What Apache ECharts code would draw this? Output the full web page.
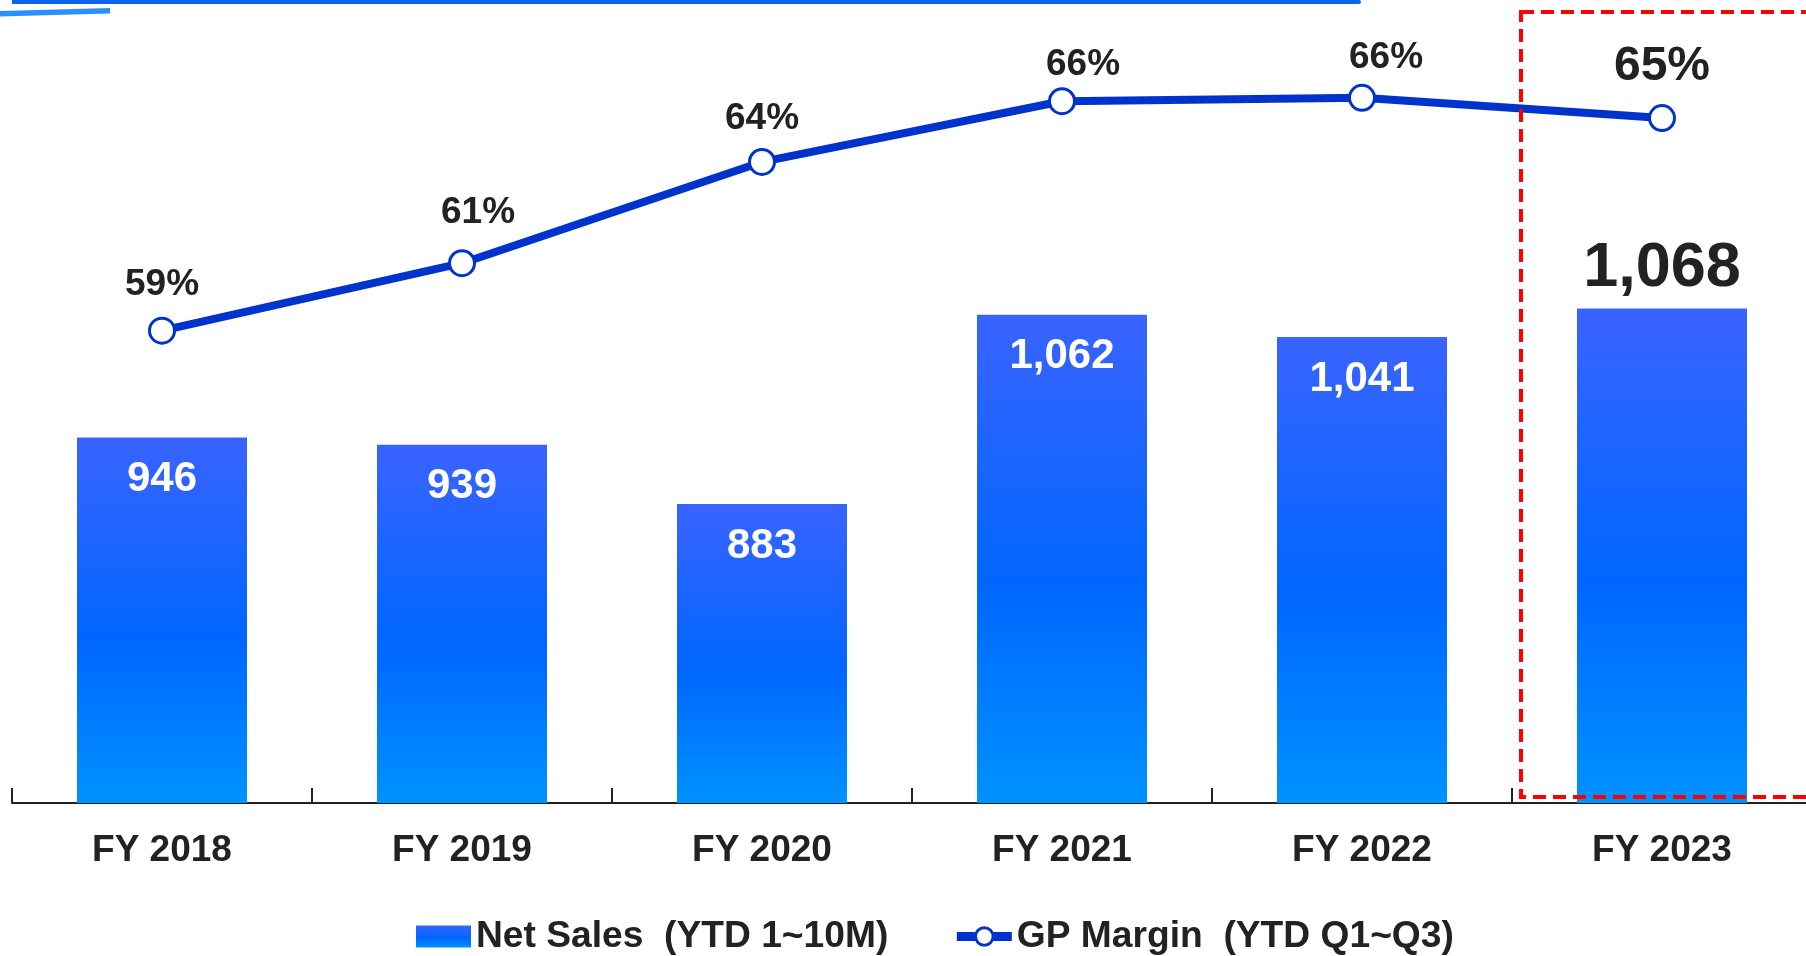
<!DOCTYPE html>
<html>
<head>
<meta charset="utf-8">
<script src="https://cdn.jsdelivr.net/npm/echarts@6/dist/echarts.min.js"></script>
<style>
    html, body { margin: 0; padding: 0; background: #fff; }
    #chart { width: 1806px; height: 956px; }
</style>
</head>
<body>
<div id="chart"></div>
<script>
// 数据
const years = ['FY 2018', 'FY 2019', 'FY 2020', 'FY 2021', 'FY 2022', 'FY 2023'];
const netSales = [946, 939, 883, 1062, 1041, 1068];
const gpMargin = [59.0, 61.0, 64.0, 65.8, 65.9, 65.3];
const salesName = 'Net Sales  (YTD 1~10M)';
const marginName = 'GP Margin  (YTD Q1~Q3)';
const highlightIndex = 5;

// 百分比标签的手动微调 (原图里标签不是严格居中)
const marginLabelShift = [[0, 2], [16, -3], [0, 4], [21, 11], [24, 7], [0, 2]];

const font = '"Liberation Sans", Arial, sans-serif';
const textColor = '#222';
const lineColor = '#0033cc';

const fmtThousands = (v) => String(v).replace(/\B(?=(\d{3})+(?!\d))/g, ',');

const barColor = new echarts.graphic.LinearGradient(0, 0, 0, 1, [
    { offset: 0, color: '#3a63ff' },
    { offset: 0.55, color: '#0066ff' },
    { offset: 1, color: '#0092ff' }
]);

const barData = netSales.map((v, i) => {
    if (i !== highlightIndex) return v;
    // 最后一年: 标签放在柱子上方, 字更大
    return {
        value: v,
        label: { position: 'top', color: textColor, fontSize: 63, distance: 8 }
    };
});

const lineData = gpMargin.map((v, i) => {
    const label = { offset: marginLabelShift[i] };
    if (i === highlightIndex) {
        label.fontSize = 48;
    }
    return { value: v, label };
});

const chart = echarts.init(document.getElementById('chart'));

chart.setOption({
    animation: false,
    textStyle: { fontFamily: font },
    legend: {
        left: 411,
        top: 913,
        itemWidth: 55,
        itemHeight: 22,
        itemGap: 64,
        textStyle: { fontFamily: font, fontSize: 37.2, fontWeight: 'bold', color: textColor },
        data: [
            { name: salesName, icon: 'rect' },
            {
                name: marginName,
                lineStyle: { width: 9 },
                itemStyle: { borderWidth: 3 }
            }
        ]
    },
    grid: { left: 12, right: -6, top: 0, bottom: 153, outerBoundsMode: 'none' },
    xAxis: {
        type: 'category',
        data: years,
        axisLine: { lineStyle: { color: '#222', width: 2 } },
        axisTick: {
            show: true,
            alignWithLabel: false,
            inside: true,
            length: 15,
            lineStyle: { color: '#222', width: 2 }
        },
        axisLabel: {
            margin: 29,
            fontFamily: font,
            fontSize: 37,
            fontWeight: 'bold',
            color: textColor
        }
    },
    yAxis: [
        { type: 'value', min: 600, max: 1360, show: false, splitLine: { show: false } },
        { type: 'value', min: 45, max: 68.8, show: false, splitLine: { show: false } }
    ],
    series: [
        {
            name: salesName,
            type: 'bar',
            barWidth: 170,
            itemStyle: { color: barColor },
            label: {
                show: true,
                position: 'insideTop',
                distance: 21,
                fontFamily: font,
                fontSize: 42,
                fontWeight: 'bold',
                color: '#fff',
                formatter: (p) => fmtThousands(p.value)
            },
            data: barData
        },
        {
            name: marginName,
            type: 'line',
            yAxisIndex: 1,
            z: 5,
            symbol: 'circle',
            symbolSize: 25,
            itemStyle: { color: '#fff', borderColor: lineColor, borderWidth: 3 },
            lineStyle: { color: lineColor, width: 8 },
            label: {
                show: true,
                position: 'top',
                distance: 15,
                fontFamily: font,
                fontSize: 37,
                fontWeight: 'bold',
                color: textColor,
                formatter: (p) => Math.round(p.value) + '%'
            },
            data: lineData
        }
    ]
});

// 最后一年的红色虚线框, 以及页面顶部的装饰线
const cx = chart.convertToPixel({ xAxisIndex: 0 }, years[highlightIndex]);
chart.setOption({
    graphic: [
        {
            type: 'rect',
            z: 100,
            shape: { x: cx - 141, y: 12, width: 320, height: 785 },
            style: { fill: 'none', stroke: '#ff0000', lineWidth: 4, lineDash: [13, 7] }
        },
        {
            type: 'rect',
            z: 100,
            shape: { x: 12, y: 0, width: 1349, height: 4, r: [0, 2, 2, 0] },
            style: { fill: '#0a64f0' }
        },
        {
            type: 'polygon',
            z: 100,
            shape: { points: [[0, 11], [110, 8], [110, 13.5], [0, 16.5]] },
            style: { fill: '#2a90ff' }
        }
    ]
});
</script>
</body>
</html>
